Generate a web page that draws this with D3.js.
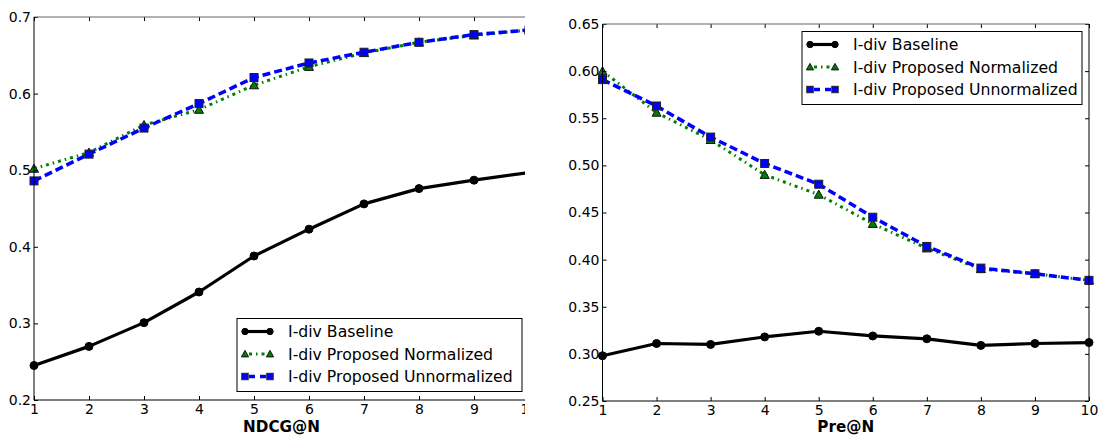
<!DOCTYPE html>
<html>
<head>
<meta charset="utf-8">
<script src="https://cdn.jsdelivr.net/npm/d3@7"></script>
<style>
  html, body { margin: 0; padding: 0; background: #fff; }
  svg { display: block; }
  text { font-family: "DejaVu Sans", sans-serif; fill: #000; }
</style>
</head>
<body>
<svg id="chart" width="1105" height="436"></svg>
<script>
// Cut-off positions N
const nValues = [1, 2, 3, 4, 5, 6, 7, 8, 9, 10];

// NDCG@N
const ndcgBaseline     = [0.245, 0.270, 0.301, 0.341, 0.388, 0.423, 0.456, 0.476, 0.487, 0.497];
const ndcgNormalized   = [0.502, 0.523, 0.559, 0.579, 0.611, 0.635, 0.653, 0.667, 0.676, 0.683];
const ndcgUnnormalized = [0.486, 0.521, 0.555, 0.587, 0.621, 0.640, 0.654, 0.667, 0.677, 0.683];

// Pre@N
const precBaseline     = [0.298, 0.311, 0.310, 0.318, 0.324, 0.319, 0.316, 0.309, 0.311, 0.312];
const precNormalized   = [0.600, 0.556, 0.527, 0.490, 0.469, 0.438, 0.412, 0.390, 0.385, 0.378];
const precUnnormalized = [0.591, 0.563, 0.530, 0.502, 0.480, 0.445, 0.414, 0.391, 0.385, 0.378];

// Tick values
const ndcgTicks = [0.2, 0.3, 0.4, 0.5, 0.6, 0.7];
const precTicks = [0.25, 0.30, 0.35, 0.40, 0.45, 0.50, 0.55, 0.60, 0.65];

// Series labels
const seriesNames = ["I-div Baseline", "I-div Proposed Normalized", "I-div Proposed Unnormalized"];

const svg = d3.select("#chart");

const styles = [
  { stroke: "#000", width: 3.2, dash: null, marker: "circle", fill: "#000" },
  { stroke: "#008000", width: 3, dash: "3 4 1.5 4", marker: "triangle", fill: "#008000" },
  { stroke: "#0000ff", width: 3.5, dash: "8 4", marker: "square", fill: "#0000ff" }
];

function drawMarker(g, type, x, y, fill, scale) {
  const s = scale || 1;
  if (type === "circle") {
    g.append("circle").attr("cx", x).attr("cy", y).attr("r", 4 * s)
      .attr("fill", fill).attr("stroke", "#000").attr("stroke-width", 1);
  } else if (type === "triangle") {
    const h = 4.5 * s;
    g.append("path")
      .attr("d", `M${x},${y - h}L${x + h},${y + h * 0.8}L${x - h},${y + h * 0.8}Z`)
      .attr("fill", fill).attr("stroke", "#111").attr("stroke-width", 1);
  } else {
    const h = 4 * s;
    g.append("rect").attr("x", x - h).attr("y", y - h).attr("width", 2 * h).attr("height", 2 * h)
      .attr("fill", fill).attr("stroke", "#222").attr("stroke-width", 1);
  }
}

function panel(opts) {
  const { left, right, top, bottom, yDomain, yTicks, fmt, series, xLabel, legend, clipWidth, id } = opts;

  const g = svg.append("g");
  if (clipWidth) {
    svg.append("clipPath").attr("id", id)
      .append("rect").attr("x", 0).attr("y", 0).attr("width", clipWidth).attr("height", 436);
    g.attr("clip-path", `url(#${id})`);
  }

  const x = d3.scaleLinear().domain([1, 10]).range([left, right]);
  const y = d3.scaleLinear().domain(yDomain).range([bottom, top]);

  // Series lines and markers
  series.forEach((vals, i) => {
    const st = styles[i];
    const pts = nValues.map((n, k) => [x(n), y(vals[k])]);
    const p = g.append("path")
      .attr("d", d3.line()(pts))
      .attr("fill", "none")
      .attr("stroke", st.stroke)
      .attr("stroke-width", st.width)
      .attr("stroke-linejoin", "round");
    if (st.dash) p.attr("stroke-dasharray", st.dash);
    pts.forEach(([px, py]) => drawMarker(g, st.marker, px, py, st.fill));
  });

  // Axes: ticks point inward on all four sides
  const axB = g.append("g").attr("transform", `translate(0,${bottom})`)
    .call(d3.axisBottom(x).tickValues(nValues).tickFormat(d3.format("d")).tickSize(-4).tickPadding(4));
  const axT = g.append("g").attr("transform", `translate(0,${top})`)
    .call(d3.axisTop(x).tickValues(nValues).tickFormat("").tickSize(-4));
  const axL = g.append("g").attr("transform", `translate(${left},0)`)
    .call(d3.axisLeft(y).tickValues(yTicks).tickFormat(d3.format(fmt)).tickSize(-4).tickPadding(3));
  const axR = g.append("g").attr("transform", `translate(${right},0)`)
    .call(d3.axisRight(y).tickValues(yTicks).tickFormat("").tickSize(-4));
  [axB, axT, axL, axR].forEach(a => {
    a.select(".domain").remove();
    a.selectAll("line").attr("stroke", "#000");
    a.selectAll("text").attr("font-size", 14).attr("font-family", "DejaVu Sans").attr("fill", "#000");
  });

  // Spines
  g.append("line").attr("x1", left).attr("x2", right).attr("y1", top).attr("y2", top)
    .attr("stroke", "#666").attr("stroke-width", 1.2);
  g.append("line").attr("x1", left).attr("x2", right).attr("y1", bottom).attr("y2", bottom)
    .attr("stroke", "#000").attr("stroke-width", 1);
  g.append("line").attr("x1", left).attr("x2", left).attr("y1", top).attr("y2", bottom)
    .attr("stroke", "#000").attr("stroke-width", 1);
  g.append("line").attr("x1", right).attr("x2", right).attr("y1", top).attr("y2", bottom)
    .attr("stroke", "#000").attr("stroke-width", 1);

  // Legend
  const lg = g.append("g").attr("transform", `translate(${legend.x},${legend.y})`);
  lg.append("rect").attr("x", 0).attr("y", 0).attr("width", legend.w).attr("height", legend.h)
    .attr("fill", "#fff").attr("stroke", "#000").attr("stroke-width", 1);
  seriesNames.forEach((name, i) => {
    const st = styles[i];
    const ey = 13 + i * 22.5;
    const l = lg.append("line").attr("x1", 8).attr("x2", 33).attr("y1", ey).attr("y2", ey)
      .attr("stroke", st.stroke).attr("stroke-width", st.width);
    if (st.dash) l.attr("stroke-dasharray", i === 1 ? "3 4 1.5 4" : "6 5").attr("stroke-dashoffset", -4);
    drawMarker(lg, st.marker, 8, ey, st.fill, 0.8);
    drawMarker(lg, st.marker, 33, ey, st.fill, 0.8);
    lg.append("text").attr("x", 51).attr("y", ey).attr("dy", "0.36em")
      .attr("font-size", 15.7).text(name);
  });

  // X axis title
  g.append("text").attr("x", (left + right) / 2).attr("y", 432)
    .attr("text-anchor", "middle").attr("font-size", 15.2).attr("font-weight", "bold")
    .text(xLabel);
}

panel({
  id: "clipNdcg", clipWidth: 525,
  left: 34, right: 529, top: 17, bottom: 400,
  yDomain: [0.2, 0.7], yTicks: ndcgTicks, fmt: ".1f",
  series: [ndcgBaseline, ndcgNormalized, ndcgUnnormalized],
  xLabel: "NDCG@N",
  legend: { x: 237, y: 318.5, w: 285, h: 73 }
});

panel({
  left: 602.5, right: 1089, top: 24, bottom: 401,
  yDomain: [0.25, 0.65], yTicks: precTicks, fmt: ".2f",
  series: [precBaseline, precNormalized, precUnnormalized],
  xLabel: "Pre@N",
  legend: { x: 802, y: 31.5, w: 280, h: 73 }
});
</script>
</body>
</html>
